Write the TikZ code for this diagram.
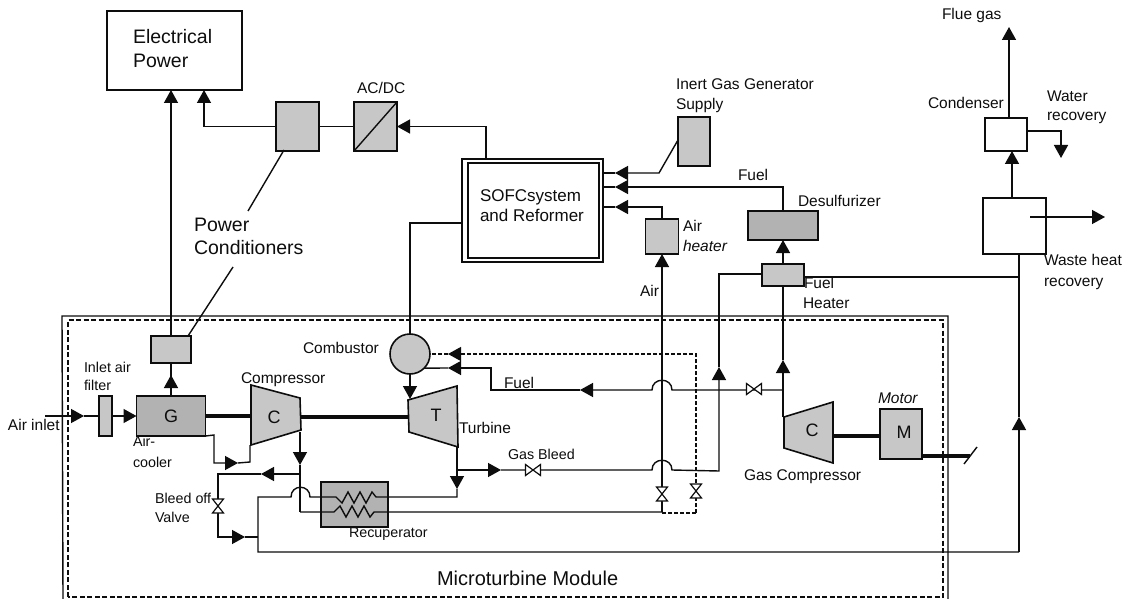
\documentclass[tikz,border=0pt]{standalone}
\usepackage{fontspec}
\setmainfont{Liberation Sans}
\usetikzlibrary{arrows.meta}
\definecolor{ink}{gray}{0.05}
\definecolor{stip}{gray}{0.78}
\definecolor{stipd}{gray}{0.70}
\newcommand{\fs}[1]{\fontsize{#1}{#1}\selectfont}
\tikzset{
  wire/.style={draw=ink,line width=1.4pt,line join=miter},
  arr/.style={wire,-{Triangle[length=13pt,width=14pt]}},
  dwire/.style={wire,dash pattern=on 4pt off 2pt,line width=1.3pt},
  darr/.style={dwire,-{Triangle[length=13pt,width=14pt]}},
  shaft/.style={draw=ink,line width=3.2pt},
  gbox/.style={draw=ink,fill=stip,line width=1.6pt,anchor=north west,inner sep=0pt,outer sep=0pt},
  dbox/.style={gbox,fill=stipd},
  wbox/.style={gbox,fill=white},
  valve/.style={draw=ink,fill=white,line width=1.2pt},
  lbl/.style={anchor=base west,inner sep=0pt,outer sep=0pt,text=ink,font=\fs{15.5}},
  lbls/.style={lbl,font=\fs{14.3}},
  lblb/.style={lbl,font=\fs{19.5}},
  sym/.style={anchor=center,inner sep=0pt,text=ink,font=\fs{18}}
}
\newcommand{\valveH}[1]{\draw[valve,shift={(#1)}] (-7.5,-5.5)--(7.5,5.5)--(7.5,-5.5)--(-7.5,5.5)--cycle;}
\newcommand{\valveV}[1]{\draw[valve,shift={(#1)}] (-5.5,-7)--(5.5,7)--(-5.5,7)--(5.5,-7)--cycle;}
\begin{document}
\begin{tikzpicture}[x=1pt,y=-1pt]
\useasboundingbox (0,0) rectangle (1133,599);
\fill[white] (0,0) rectangle (1133,599);
% module frames
\coordinate (mA) at (63,599); \coordinate (mB) at (62,316); \coordinate (mC) at (948,316); \coordinate (mD) at (948,599);
\draw[draw=ink,line width=1.4pt] (mA)--(mB)--(mC)--(mD);
\coordinate (nA) at (68,597); \coordinate (nB) at (68,320); \coordinate (nC) at (943,320); \coordinate (nD) at (943,597);
\draw[draw=ink,line width=1.3pt,dash pattern=on 5pt off 2.5pt] (nA)--(nB)--(nC)--(nD)--cycle;

% boxes
\node[wbox,minimum width=135pt,minimum height=79pt] (ep) at (107,11) {};
\node[gbox,minimum width=43pt,minimum height=49pt] (pc2) at (276,102) {};
\node[gbox,minimum width=43pt,minimum height=49pt] (ac) at (354,102) {};
\draw[wire] (ac.south west)--(ac.north east);
\node[wbox,minimum width=141pt,minimum height=103pt] (sofc) at (462,159) {};
\node[wbox,minimum width=131pt,minimum height=95pt] (sofcin) at (468,163) {};
\node[gbox,minimum width=32pt,minimum height=49pt] (inert) at (678,117) {};
\node[gbox,minimum width=33pt,minimum height=35pt] (airheat) at (645.5,219) {};
\node[dbox,minimum width=70pt,minimum height=29pt] (desulf) at (748,211) {};
\node[gbox,minimum width=42pt,minimum height=22pt] (fuelheat) at (762,264) {};
\node[wbox,minimum width=42pt,minimum height=33pt] (cond) at (985,118) {};
\node[wbox,minimum width=63pt,minimum height=56pt] (waste) at (983,198) {};
\node[gbox,minimum width=40pt,minimum height=27pt] (pc1) at (151,336) {};
\node[gbox,minimum width=13pt,minimum height=40pt] (filter) at (99,396) {};
\node[dbox,minimum width=69pt,minimum height=40pt] (G) at (136.5,396) {};
\node[dbox,minimum width=67pt,minimum height=45pt] (recup) at (321,482) {};
\node[gbox,minimum width=42pt,minimum height=50pt] (motor) at (880,409) {};
\node[draw=ink,fill=stip,line width=1.6pt,circle,minimum size=40pt,inner sep=0pt,outer sep=0pt] (comb) at (410,354) {};

% turbomachines
\coordinate (c1) at (251,385); \coordinate (c2) at (300,398); \coordinate (c3) at (301,430); \coordinate (c4) at (251,445);
\draw[gbox] (c1)--(c2)--(c3)--(c4)--cycle;
\coordinate (t1) at (408,400); \coordinate (t2) at (457,386); \coordinate (t3) at (458,447); \coordinate (t4) at (409,432);
\draw[gbox] (t1)--(t2)--(t3)--(t4)--cycle;
\coordinate (g1) at (784,417); \coordinate (g2) at (833,402); \coordinate (g3) at (833,463); \coordinate (g4) at (784,448);
\draw[gbox] (g1)--(g2)--(g3)--(g4)--cycle;

% shafts
\coordinate (sC1) at (251,416); \coordinate (sC2) at (301,417); \coordinate (sT) at (408,417);
\coordinate (sG) at (833,436); \coordinate (sM) at (880,436);
\coordinate (mO) at (922,456); \coordinate (mE) at (970,456); \coordinate (sl1) at (964,464); \coordinate (sl2) at (977,447);
\draw[shaft] (G.east)--(sC1);
\draw[shaft] (sC2)--(sT);
\draw[shaft] (sG)--(sM);
\draw[shaft] (mO)--(mE);
\draw[wire] (sl1)--(sl2);

% air inlet
\coordinate (airin) at (45,416); \coordinate (a1) at (84,416);
\draw[arr] (airin)--(a1);
\draw[wire] (a1)--(filter.west);
\draw[arr] (filter.east)--(G.west);

% generator and power
\coordinate (p1) at (171,375);
\draw[wire] (G.north)--(pc1.south);
\draw[arr] (G.north)--(p1);
\coordinate (ep1) at (171,90);
\draw[arr] (pc1.north)--(ep1);
\coordinate (ep2) at (204,90);
\draw[arr] (pc2.west)-|(ep2);
\draw[wire] (pc2.east)--(ac.west);
\coordinate (sofcT) at (486,159);
\draw[arr] (sofcT)|-(ac.east);

% power conditioner leaders
\coordinate (l1) at (284,150); \coordinate (l2) at (248,211);
\coordinate (l3) at (233,267); \coordinate (l4) at (188,336);
\draw[wire] (l1)--(l2);
\draw[wire] (l3)--(l4);

% SOFC to combustor, to turbine
\coordinate (sofcL) at (462,223); \coordinate (tT) at (410,399);
\draw[wire] (sofcL)-|(comb.north);
\draw[arr] (comb.south)--(tT);

% SOFC inputs
\coordinate (s1) at (603,173); \coordinate (s1t) at (615,173); \coordinate (s1k) at (659,173); \coordinate (s1e) at (678,140);
\draw[arr] (s1e)--(s1k)--(s1t);
\draw[wire] (s1t)--(s1);
\coordinate (s2) at (603,187); \coordinate (s2t) at (615,187);
\draw[arr] (desulf.north)|-(s2t);
\draw[wire] (s2t)--(s2);
\coordinate (s3) at (603,207); \coordinate (s3t) at (615,207);
\draw[arr] (airheat.north)|-(s3t);
\draw[wire] (s3t)--(s3);

% air line
\coordinate (jA) at (662,512); \coordinate (ahT) at (662,254);
\draw[arr] (jA)--(ahT);

% gas compressor line and fuel heater
\coordinate (gcN) at (783,417); \coordinate (gcT) at (783,360); \coordinate (fhT) at (783,240);
\draw[arr] (gcN)--(gcT);
\draw[wire] (gcT)--(fuelheat.south);
\draw[arr] (fuelheat.north)--(fhT);

% fuel to combustor
\coordinate (f0) at (783,390); \coordinate (fh2) at (672,390); \coordinate (fh1) at (652,390);
\coordinate (ft1) at (580,390); \coordinate (fk1) at (491,390); \coordinate (fk2) at (491,368); \coordinate (ft2) at (448,368);
\draw[arr] (f0)--(fh2) .. controls +(0,-13) and +(0,-13) .. (fh1)--(ft1);
\draw[arr] (ft1)--(fk1)--(fk2)--(ft2);
\draw[wire] (ft2)--(comb.south east);

% gas bleed
\coordinate (b0) at (457,470); \coordinate (bt) at (501,470); \coordinate (bh1) at (652,470); \coordinate (bh2) at (672,470);
\coordinate (bk) at (719,471); \coordinate (bu) at (719,367); \coordinate (bk2) at (719,274); \coordinate (fhW) at (762,274);
\draw[arr] (b0)--(bt);
\draw[arr] (bt)--(bh1) .. controls +(0,-13) and +(0,-13) .. (bh2)--(bk)--(bu);
\draw[wire] (bu)--(bk2)--(fhW);

% dashed inert line
\coordinate (dv) at (696,491); \coordinate (dc) at (696,354); \coordinate (dt) at (448,354);
\coordinate (db) at (696,513); \coordinate (dj) at (662,513);
\draw[darr] (db)--(dc)--(dt);
\draw[dwire] (dt)--(comb.east);
\draw[dwire] (db)--(dj);

% compressor air out
\coordinate (cO) at (300,432); \coordinate (ct) at (300,465); \coordinate (cj) at (300,474); \coordinate (cb) at (300,512);
\coordinate (bt2) at (261,474); \coordinate (bk3) at (218,474); \coordinate (bv) at (218,506); \coordinate (bk4) at (218,537); \coordinate (bt3) at (245,537); \coordinate (ret) at (258,537);
\draw[arr] (cO)--(ct);
\draw[wire] (ct)--(cb);
\draw[arr] (cj)--(bt2);
\draw[arr] (bt2)--(bk3)--(bk4)--(bt3);
\draw[wire] (bt3)--(ret);

% recuperator, lower pass
\coordinate (zl) at (334,512);
\draw[wire] (cb)--(zl)--++(6,-6)--++(6,11)--++(6,-11)--++(6,11)--++(6,-11)--++(6,11)--++(4,-5)--(jA);
% turbine exhaust, upper pass
\coordinate (tx) at (457,447); \coordinate (txt) at (457,489); \coordinate (tk) at (457,497); \coordinate (zr) at (376,497);
\coordinate (rh1) at (310,497); \coordinate (rh2) at (291,497); \coordinate (rk1) at (258,497); \coordinate (rk2) at (258,552);
\coordinate (rk3) at (1019,552); \coordinate (ru) at (1019,417); \coordinate (wS) at (1019,254);
\draw[arr] (tx)--(txt);
\draw[wire] (txt)--(tk)--(zr)--++(-4,-5)--++(-6,11)--++(-6,-11)--++(-6,11)--++(-6,-11)--++(-6,11)--++(-6,-6)--(rh1) .. controls +(0,-13) and +(0,-13) .. (rh2)--(rk1)--(rk2)--(rk3);
\draw[arr] (rk3)--(ru);
\draw[wire] (ru)--(wS);

% G to compressor
\coordinate (ga) at (214,435); \coordinate (gb) at (214,463); \coordinate (gt) at (238,463); \coordinate (gc) at (250,462); \coordinate (gd) at (250,445);
\draw[arr] (G.south east)--(ga)--(gb)--(gt);
\draw[wire] (gt)--(gc)--(gd);

% waste heat side
\coordinate (fhE) at (804,277); \coordinate (fhJ) at (1019,277);
\draw[wire] (fhE)--(fhJ);
\coordinate (w1) at (1012,198); \coordinate (w2) at (1012,151);
\draw[arr] (w1)--(w2);
\coordinate (fl1) at (1009,118); \coordinate (fl2) at (1009,27);
\draw[arr] (fl1)--(fl2);
\coordinate (wr1) at (1027,131); \coordinate (wr2) at (1061,158);
\draw[arr] (wr1)-|(wr2);
\coordinate (wo1) at (1030,217); \coordinate (wo2) at (1105,217);
\draw[arr] (wo1)--(wo2);

% valves
\coordinate (vF) at (754,389); \coordinate (vB) at (533,470); \coordinate (vA) at (662,494);
\valveH{vF} \valveH{vB} \valveV{vA} \valveV{dv} \valveV{bv}

% labels
\node[lblb] (tElec) at (133,44) {Electrical};
\node[lblb] (tPow) at (133,68) {Power};
\node[lbl] (tAC) at (357,94) {AC/DC};
\node[lblb] (tPC1) at (194,231) {Power};
\node[lblb] (tPC2) at (194,254) {Conditioners};
\node[lbl,font=\fs{17}] (tS1) at (480,201) {SOFCsystem};
\node[lbl,font=\fs{17}] (tS2) at (480,222) {and Reformer};
\node[lbl] (tI1) at (676,90) {Inert Gas Generator};
\node[lbl] (tI2) at (676,110) {Supply};
\node[lbl] (tF1) at (738,181) {Fuel};
\node[lbl] (tD) at (798,207) {Desulfurizer};
\node[lbl] (tAH1) at (683,231) {Air};
\node[lbl,font=\fs{15.5}\itshape] (tAH2) at (683,251) {heater};
\node[lbl] (tAir) at (640,296) {Air};
\node[lbl] (tFH1) at (804,288) {Fuel};
\node[lbl] (tFH2) at (803,308) {Heater};
\node[lbl] (tFlue) at (942,20) {Flue gas};
\node[lbl] (tCond) at (928,109) {Condenser};
\node[lbl] (tW1) at (1047,102) {Water};
\node[lbl] (tW2) at (1047,121) {recovery};
\node[lbl] (tWh1) at (1044,265) {Waste heat};
\node[lbl] (tWh2) at (1044,286) {recovery};
\node[lbls] (tIn1) at (84,372) {Inlet air};
\node[lbls] (tIn2) at (84,390) {filter};
\node[lbl] (tAI) at (8,430) {Air inlet};
\node[lbls] (tAC1) at (133,446) {Air-};
\node[lbls] (tAC2) at (133,467) {cooler};
\node[lbl] (tComp) at (241,383) {Compressor};
\node[lbl] (tCmb) at (303,353) {Combustor};
\node[lbl] (tTur) at (459,433) {Turbine};
\node[lbl] (tFuel) at (504,388) {Fuel};
\node[lbls] (tGB) at (508,459) {Gas Bleed};
\node[lbls] (tBl1) at (155,503) {Bleed off};
\node[lbls] (tBl2) at (155,522) {Valve};
\node[lbls] (tRec) at (349,537) {Recuperator};
\node[lbl] (tGC) at (744,480) {Gas Compressor};
\node[lbl,font=\fs{15.5}\itshape] (tMot) at (878,403) {Motor};
\node[lbl,font=\fs{20}] (tMM) at (437,585) {Microturbine Module};
\node[sym] (sG) at (171,416) {G};
\node[sym] (sC) at (274,417) {C};
\node[sym] (sTt) at (436,415) {T};
\node[sym] (sCg) at (812,430) {C};
\node[sym] (sMm) at (904,432) {M};
\end{tikzpicture}
\end{document}
